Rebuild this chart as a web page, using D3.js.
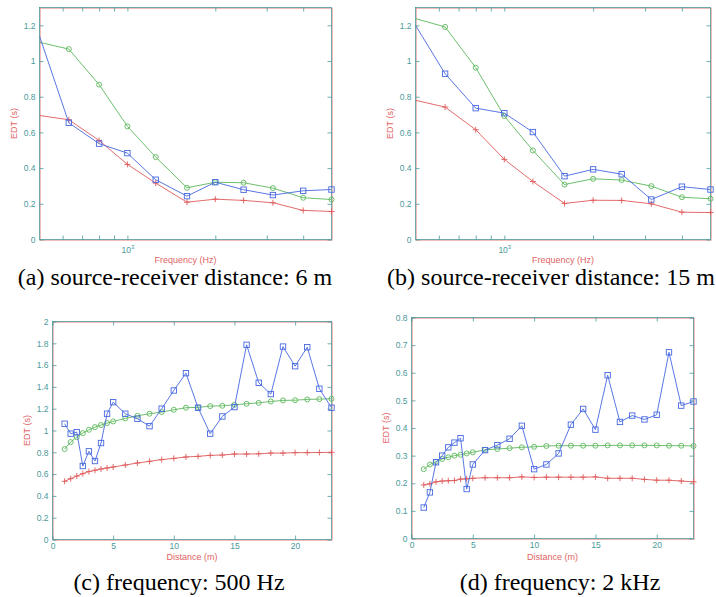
<!DOCTYPE html>
<html>
<head>
<meta charset="utf-8">
<script src="https://cdn.jsdelivr.net/npm/d3@7"></script>
<style>
  body { margin: 0; background: #fff; }
  svg { display: block; }
</style>
</head>
<body>
<svg id="fig" width="716" height="597"></svg>
<script>
/* globals d3 */
// 1/3-octave bands used in (a) and (b)
const freqs = [500, 630, 800, 1000, 1250, 1600, 2000, 2500, 3150, 4000, 5000];
const freqTicks = [600, 700, 800, 900, 1000, 2000, 3000, 4000];

const edtA_square = [1.14, 0.654, 0.537, 0.484, 0.335, 0.243, 0.321, 0.279, 0.249, 0.273, 0.28];
const edtA_circle = [1.105, 1.067, 0.868, 0.634, 0.462, 0.29, 0.321, 0.318, 0.288, 0.234, 0.224];
const edtA_plus = [0.695, 0.671, 0.555, 0.421, 0.316, 0.209, 0.226, 0.219, 0.206, 0.163, 0.157];

const edtB_square = [1.2, 0.929, 0.736, 0.708, 0.602, 0.355, 0.393, 0.366, 0.224, 0.296, 0.28];
const edtB_circle = [1.238, 1.191, 0.963, 0.692, 0.499, 0.308, 0.34, 0.333, 0.299, 0.237, 0.228];
const edtB_plus = [0.78, 0.742, 0.615, 0.449, 0.325, 0.202, 0.22, 0.219, 0.2, 0.153, 0.151];

// source-receiver distances used in (c) and (d)
const distances = [1, 1.5, 2, 2.5, 3, 3.5, 4, 4.5, 5, 6, 7, 8, 9, 10, 11, 12, 13, 14, 15, 16, 17, 18, 19, 20, 21, 22, 23];
const distTicks = [0, 5, 10, 15, 20];

const edtC_square = [1.062, 0.971, 0.985, 0.674, 0.809, 0.72, 0.885, 1.154, 1.26, 1.154, 1.108, 1.04, 1.2, 1.367,
  1.526, 1.209, 0.971, 1.129, 1.215, 1.786, 1.438, 1.334, 1.77, 1.59, 1.764, 1.383, 1.209];
const edtC_circle = [0.83, 0.894, 0.94, 0.976, 1.007, 1.031, 1.05, 1.068, 1.083, 1.111, 1.135, 1.154, 1.169, 1.19,
  1.209, 1.212, 1.224, 1.227, 1.236, 1.245, 1.254, 1.266, 1.276, 1.278, 1.285, 1.288, 1.291];
const edtC_plus = [0.534, 0.558, 0.582, 0.604, 0.623, 0.635, 0.647, 0.656, 0.665, 0.683, 0.702, 0.717, 0.733, 0.744,
  0.757, 0.763, 0.772, 0.775, 0.784, 0.784, 0.786, 0.793, 0.793, 0.797, 0.797, 0.798, 0.8];

const edtD_square = [0.112, 0.167, 0.276, 0.3, 0.33, 0.347, 0.363, 0.179, 0.268, 0.32, 0.338, 0.361, 0.408, 0.251,
  0.268, 0.308, 0.412, 0.469, 0.394, 0.591, 0.422, 0.445, 0.431, 0.448, 0.674, 0.481, 0.496];
const edtD_circle = [0.251, 0.268, 0.278, 0.288, 0.294, 0.3, 0.303, 0.308, 0.312, 0.321, 0.324, 0.327, 0.33, 0.332,
  0.335, 0.336, 0.336, 0.336, 0.336, 0.337, 0.337, 0.337, 0.337, 0.337, 0.336, 0.336, 0.335];
const edtD_plus = [0.194, 0.198, 0.205, 0.208, 0.209, 0.21, 0.215, 0.216, 0.218, 0.22, 0.22, 0.22, 0.223, 0.221,
  0.222, 0.222, 0.222, 0.222, 0.223, 0.218, 0.218, 0.218, 0.214, 0.211, 0.211, 0.208, 0.205];

const edtTicksAB = [0, 0.2, 0.4, 0.6, 0.8, 1, 1.2];
const edtTicksC = [0, 0.2, 0.4, 0.6, 0.8, 1, 1.2, 1.4, 1.6, 1.8, 2];
const edtTicksD = [0, 0.1, 0.2, 0.3, 0.4, 0.5, 0.6, 0.7, 0.8];

const captions = [
  "(a) source-receiver distance: 6 m",
  "(b) source-receiver distance: 15 m",
  "(c) frequency: 500 Hz",
  "(d) frequency: 2 kHz",
];

const tealCol = "#4a9a9a";
const redCol = "#e06464";
const blueCol = "#4668e0";
const greenCol = "#5cb85c";
const plusCol = "#e05a5a";

const panels = [
  { box: [39.5, 7.5, 331.5, 239.5], log: true, xDomain: [500, 5000], xTicks: freqTicks, xs: freqs,
    yDomain: [0, 1.3], yTicks: edtTicksAB, sq: edtA_square, ci: edtA_circle, pl: edtA_plus,
    xLabel: "Frequency (Hz)", xLabelDy: 21, caption: captions[0], capX: 175, capY: 285 },
  { box: [415.5, 7.5, 710.5, 239.5], log: true, xDomain: [500, 5000], xTicks: freqTicks, xs: freqs,
    yDomain: [0, 1.3], yTicks: edtTicksAB, sq: edtB_square, ci: edtB_circle, pl: edtB_plus,
    xLabel: "Frequency (Hz)", xLabelDy: 21, caption: captions[1], capX: 551, capY: 285 },
  { box: [52.5, 321.5, 331.5, 539.5], log: false, xDomain: [0, 23], xTicks: distTicks, xs: distances,
    yDomain: [0, 2], yTicks: edtTicksC, sq: edtC_square, ci: edtC_circle, pl: edtC_plus,
    xLabel: "Distance (m)", xLabelDy: 18, caption: captions[2], capX: 179, capY: 590 },
  { box: [411.5, 317.5, 693.5, 538.5], log: false, xDomain: [0, 23], xTicks: distTicks, xs: distances,
    yDomain: [0, 0.8], yTicks: edtTicksD, sq: edtD_square, ci: edtD_circle, pl: edtD_plus,
    xLabel: "Distance (m)", xLabelDy: 19, caption: captions[3], capX: 560, capY: 590 },
];

const svg = d3.select("#fig");

panels.forEach((p, idx) => {
  const [x0, y0, x1, y1] = p.box;
  const g = svg.append("g");
  const x = (p.log ? d3.scaleLog() : d3.scaleLinear()).domain(p.xDomain).range([x0, x1]);
  const y = d3.scaleLinear().domain(p.yDomain).range([y1, y0]);

  // frame: scanned look, faint red shifted copy under a teal one
  g.append("rect")
    .attr("x", x0 + 0.7).attr("y", y0 + 0.7)
    .attr("width", x1 - x0).attr("height", y1 - y0)
    .attr("fill", "none").attr("stroke", redCol).attr("stroke-opacity", 0.75).attr("stroke-width", 0.8);
  g.append("rect")
    .attr("x", x0).attr("y", y0)
    .attr("width", x1 - x0).attr("height", y1 - y0)
    .attr("fill", "none").attr("stroke", tealCol).attr("stroke-width", 0.8);

  const xFmt = p.log ? () => "" : d3.format("~g");
  const bottom = g.append("g")
    .attr("transform", `translate(0,${y1})`)
    .call(d3.axisBottom(x).tickValues(p.xTicks).tickSize(-4).tickPadding(3).tickFormat(xFmt));
  g.append("g")
    .attr("transform", `translate(0,${y0})`)
    .call(d3.axisTop(x).tickValues(p.xTicks).tickSize(-4).tickFormat(() => ""));
  g.append("g")
    .attr("transform", `translate(${x0},0)`)
    .call(d3.axisLeft(y).tickValues(p.yTicks).tickSize(-4).tickPadding(4).tickFormat(d3.format("~g")));
  g.append("g")
    .attr("transform", `translate(${x1},0)`)
    .call(d3.axisRight(y).tickValues(p.yTicks).tickSize(-4).tickFormat(() => ""));

  g.selectAll(".domain").remove();
  g.selectAll(".tick line").attr("stroke", tealCol).attr("stroke-width", 0.8);
  g.selectAll(".tick text")
    .attr("fill", tealCol)
    .attr("font-family", "Liberation Sans, Arial, sans-serif")
    .attr("font-size", 8.5);

  if (p.log) {
    // only the decade gets a label: 10^3
    const t = bottom.selectAll(".tick").filter((d) => d === 1000).select("text");
    t.attr("dy", "1.2em");
    t.append("tspan").text("10");
    t.append("tspan").attr("font-size", 6).attr("dy", "-0.6em").text("3");
  }

  // axis titles
  g.append("text")
    .attr("x", (x0 + x1) / 2).attr("y", y1 + p.xLabelDy)
    .attr("text-anchor", "middle").attr("dominant-baseline", "middle")
    .attr("fill", redCol)
    .attr("font-family", "Liberation Sans, Arial, sans-serif").attr("font-size", 9)
    .text(p.xLabel);
  g.append("text")
    .attr("transform", `translate(${x0 - 25},${(y0 + y1) / 2}) rotate(-90)`)
    .attr("text-anchor", "middle").attr("dominant-baseline", "middle")
    .attr("fill", redCol)
    .attr("font-family", "Liberation Sans, Arial, sans-serif").attr("font-size", 9)
    .text("EDT (s)");

  // clip lines to the axes box
  const clipId = "clip" + idx;
  svg.append("clipPath").attr("id", clipId)
    .append("rect").attr("x", x0).attr("y", y0).attr("width", x1 - x0).attr("height", y1 - y0);

  const series = [
    { vals: p.pl, color: plusCol, mark: "plus" },
    { vals: p.ci, color: greenCol, mark: "circle" },
    { vals: p.sq, color: blueCol, mark: "square" },
  ];

  series.forEach((s) => {
    const pts = p.xs.map((xv, i) => [xv, s.vals[i]]);
    const line = d3.line().x((d) => x(d[0])).y((d) => y(d[1]));
    g.append("path")
      .datum(pts)
      .attr("clip-path", `url(#${clipId})`)
      .attr("fill", "none")
      .attr("stroke", s.color)
      .attr("stroke-width", 0.9)
      .attr("d", line);

    // markers at the lower x limit are not shown in the figure
    const shown = pts.filter((d) => d[0] > p.xDomain[0]);
    const m = g.append("g").attr("fill", "none").attr("stroke", s.color).attr("stroke-width", 0.9);
    if (s.mark === "circle") {
      m.selectAll("circle").data(shown).enter().append("circle")
        .attr("cx", (d) => x(d[0])).attr("cy", (d) => y(d[1])).attr("r", 2.5);
    } else if (s.mark === "square") {
      m.selectAll("rect").data(shown).enter().append("rect")
        .attr("x", (d) => x(d[0]) - 2.7).attr("y", (d) => y(d[1]) - 2.7)
        .attr("width", 5.4).attr("height", 5.4);
    } else {
      m.selectAll("path").data(shown).enter().append("path")
        .attr("d", (d) => `M${x(d[0]) - 3},${y(d[1])}H${x(d[0]) + 3}M${x(d[0])},${y(d[1]) - 3}V${y(d[1]) + 3}`);
    }
  });

  // sub-figure caption
  svg.append("text")
    .attr("x", p.capX).attr("y", p.capY)
    .attr("text-anchor", "middle")
    .attr("fill", "#000")
    .attr("font-family", "Liberation Serif, Times New Roman, serif")
    .attr("font-size", 24)
    .text(p.caption);
});
</script>
</body>
</html>
